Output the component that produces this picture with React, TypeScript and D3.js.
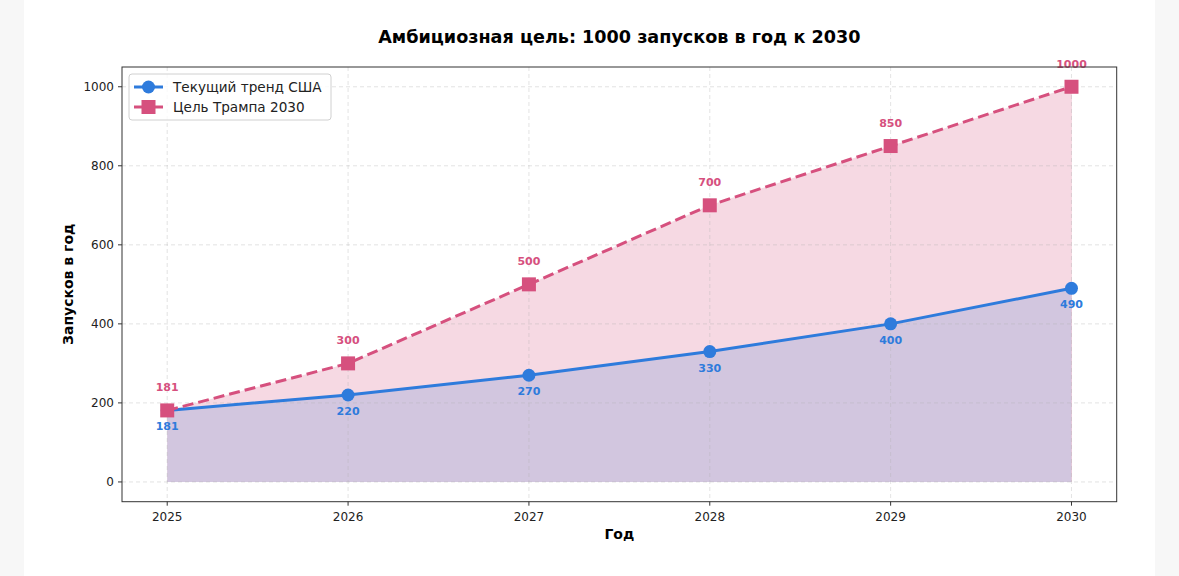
import React from "react";
import * as d3 from "d3";

const years = [2025, 2026, 2027, 2028, 2029, 2030];
const currentTrend = [181, 220, 270, 330, 400, 490];
const trumpGoal = [181, 300, 500, 700, 850, 1000];
const yTicks = [0, 200, 400, 600, 800, 1000];
const seriesNames = ["Текущий тренд США", "Цель Трампа 2030"];
const titleText = "Амбициозная цель: 1000 запусков в год к 2030";
const xLabelText = "Год";
const yLabelText = "Запусков в год";

const W = 1179;
const H = 576;
const BLUE = "#2e7bdc";
const PINK = "#d6507e";
const PURPLE_FILL = "#d2c6df";
const FONT = "'DejaVu Sans', Verdana, sans-serif";

export default function App() {
  const left = 122, right = 1116.7, top = 67, bottom = 501.7;
  const x = d3.scaleLinear().domain([2024.75, 2030.25]).range([left, right]);
  const y = d3.scaleLinear().domain([-50, 1050]).range([bottom, top]);

  const line = d3.line<number>().x((_, i) => x(years[i])).y((d) => y(d));
  const area = d3
    .area<number>()
    .x((_, i) => x(years[i]))
    .y0(() => y(0))
    .y1((d) => y(d));

  const sq = 14;

  return (
    <svg
      width={W}
      height={H}
      style={{ position: "fixed", left: 0, top: 0, display: "block" }}
      fontFamily={FONT}
    >
      <rect x={0} y={0} width={W} height={H} fill="#f7f7f7" />
      <rect x={24} y={0} width={1131} height={H} fill="#ffffff" />

      {/* title */}
      <text
        x={(left + right) / 2}
        y={43}
        textAnchor="middle"
        fontSize={17.6}
        fontWeight="bold"
        fill="#000"
      >
        {titleText}
      </text>

      {/* fills */}
      <path d={area(trumpGoal) || ""} fill={PINK} fillOpacity={0.22} />
      <path d={area(currentTrend) || ""} fill={PURPLE_FILL} />
      <line
        x1={x(2030)}
        x2={x(2030)}
        y1={y(0)}
        y2={y(1000)}
        stroke={PINK}
        strokeOpacity={0.12}
        strokeWidth={1}
      />

      {/* grid */}
      <g stroke="#b0b0b0" strokeOpacity={0.45} strokeWidth={0.8} strokeDasharray="4,3">
        {years.map((yr) => (
          <line key={"gx" + yr} x1={x(yr)} x2={x(yr)} y1={top} y2={bottom} />
        ))}
        {yTicks.map((t) => (
          <line key={"gy" + t} x1={left} x2={right} y1={y(t)} y2={y(t)} />
        ))}
      </g>

      {/* lines */}
      <path d={line(currentTrend) || ""} fill="none" stroke={BLUE} strokeWidth={3} />
      <path
        d={line(trumpGoal) || ""}
        fill="none"
        stroke={PINK}
        strokeWidth={3}
        strokeDasharray="11,5"
      />
      {currentTrend.map((v, i) => (
        <circle key={"c" + i} cx={x(years[i])} cy={y(v)} r={6.5} fill={BLUE} />
      ))}
      {trumpGoal.map((v, i) => (
        <rect
          key={"s" + i}
          x={x(years[i]) - sq / 2}
          y={y(v) - sq / 2}
          width={sq}
          height={sq}
          fill={PINK}
        />
      ))}

      {/* data labels */}
      <g fontSize={11} fontWeight="bold" textAnchor="middle">
        {trumpGoal.map((v, i) => (
          <text key={"lp" + i} x={x(years[i])} y={y(v) - 19} fill={PINK}>
            {v}
          </text>
        ))}
        {currentTrend.map((v, i) => (
          <text key={"lb" + i} x={x(years[i])} y={y(v) + 20} fill={BLUE}>
            {v}
          </text>
        ))}
      </g>

      {/* spines */}
      <rect
        x={left}
        y={top}
        width={right - left}
        height={bottom - top}
        fill="none"
        stroke="#333"
        strokeWidth={1}
      />

      {/* ticks */}
      <g fontSize={12} fill="#222">
        {years.map((yr) => (
          <g key={"tx" + yr}>
            <line x1={x(yr)} x2={x(yr)} y1={bottom} y2={bottom + 4} stroke="#333" />
            <text x={x(yr)} y={521} textAnchor="middle">
              {yr}
            </text>
          </g>
        ))}
        {yTicks.map((t) => (
          <g key={"ty" + t}>
            <line x1={left - 4} x2={left} y1={y(t)} y2={y(t)} stroke="#333" />
            <text x={left - 8} y={y(t) + 4.3} textAnchor="end">
              {t}
            </text>
          </g>
        ))}
      </g>

      {/* axis labels */}
      <text
        x={(left + right) / 2}
        y={539}
        textAnchor="middle"
        fontSize={14}
        fontWeight="bold"
        fill="#000"
      >
        {xLabelText}
      </text>
      <text
        transform={`translate(73,${(top + bottom) / 2}) rotate(-90)`}
        textAnchor="middle"
        fontSize={14}
        fontWeight="bold"
        fill="#000"
      >
        {yLabelText}
      </text>

      {/* legend */}
      <g>
        <rect
          x={129}
          y={74}
          width={202}
          height={46}
          rx={3}
          fill="#fff"
          fillOpacity={0.8}
          stroke="#d0d0d0"
        />
        <line x1={134} x2={163} y1={87} y2={87} stroke={BLUE} strokeWidth={3} />
        <circle cx={148.5} cy={87} r={6.5} fill={BLUE} />
        <line x1={134} x2={163} y1={107} y2={107} stroke={PINK} strokeWidth={3} />
        <rect x={148.5 - 7} y={100} width={14} height={14} fill={PINK} />
        <text x={173} y={91.5} fontSize={13.6} fill="#222">
          {seriesNames[0]}
        </text>
        <text x={173} y={111.5} fontSize={13.6} fill="#222">
          {seriesNames[1]}
        </text>
      </g>
    </svg>
  );
}
